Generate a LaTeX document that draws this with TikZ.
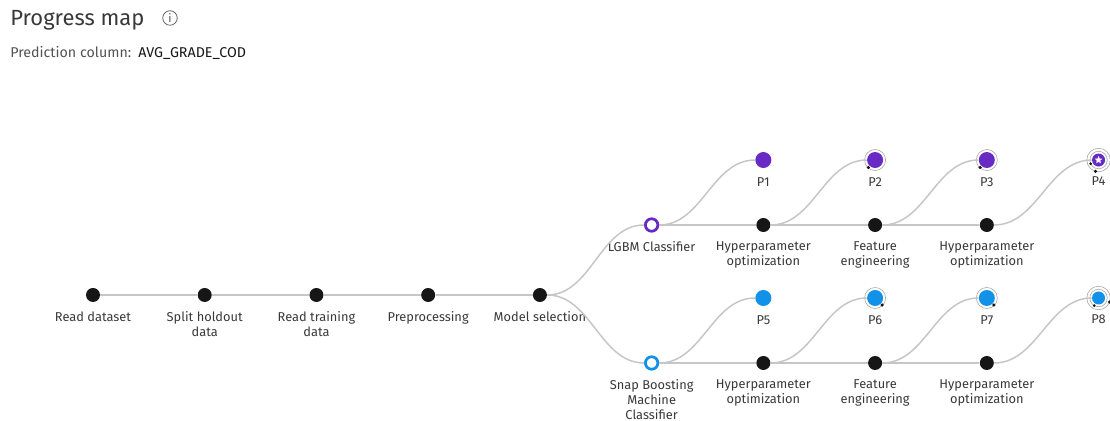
\documentclass[tikz,border=0pt]{standalone}
\usepackage{fontspec}
\setmainfont{Fira Sans}
\usetikzlibrary{positioning,shapes.geometric}
\definecolor{Ink}{HTML}{161616}
\definecolor{Wire}{HTML}{C6C6C6}
\definecolor{Halo}{HTML}{A8A8A8}
\definecolor{Grape}{HTML}{6929C4}
\definecolor{Sky}{HTML}{1192E8}
\definecolor{Caption}{HTML}{393939}
\definecolor{Muted}{HTML}{525252}

\begin{document}
\begin{tikzpicture}[
  x=0.02cm, y=-0.02cm,
  font=\fontsize{7.3}{8.5}\selectfont,
  node distance=2.235cm and 2.235cm, on grid,
  every label/.style={text=Caption, align=center, inner sep=0pt, label distance=0.18cm},
  stepdot/.style={circle, fill=Ink, minimum size=0.28cm, inner sep=0pt},
  estimator/.style={circle, fill=white, line width=0.055cm, minimum size=0.25cm, inner sep=0pt,
    label distance=0.17cm},
  pipeline/.style={circle, minimum size=0.32cm, inner sep=0pt, label distance=0.27cm},
  bestpipe/.style={pipeline, minimum size=0.26cm, label distance=0.3cm},
  halo/.style={draw=Halo, line width=0.35pt},
  tick/.style={fill=Ink},
  link/.style={draw=Wire, line width=0.85pt},
  curve/.style={link, out=0, in=180, looseness=0.95}
]
  \useasboundingbox (0,0) rectangle (1110,421);

  % header
  \node[anchor=west, inner sep=0pt, font=\fontsize{12.5}{14}\selectfont, text=Caption] (title) at (10,20) {Progress map};
  \node[circle, draw=Muted, line width=0.4pt, minimum size=0.29cm, inner sep=0pt,
        font=\fontsize{6.5}{6.5}\selectfont, text=Muted] (info) at (170,18) {i};
  \node[anchor=west, inner sep=0pt, font=\fontsize{8.1}{9.5}\selectfont, text=Muted] (target) at (10,53)
    {Prediction column:\enspace{\color{Ink}AVG\_GRADE\_COD}};

  % main pipeline
  \node[stepdot, label=below:Read dataset] (read) at (93,295) {};
  \node[stepdot, right=of read, label=below:{Split holdout\\data}] (split) {};
  \node[stepdot, right=of split, label=below:{Read training\\data}] (train) {};
  \node[stepdot, right=of train, label=below:Preprocessing] (prep) {};
  \node[stepdot, right=of prep, label=below:Model selection] (select) {};

  % estimators
  \node[estimator, draw=Grape, above right=1.4cm and 2.235cm of select, label=below:LGBM Classifier] (lgbm) {};
  \node[estimator, draw=Sky, below right=1.36cm and 2.235cm of select,
        label=below:{Snap Boosting\\Machine\\Classifier}] (snap) {};

  % LGBM branch
  \node[stepdot, right=of lgbm, label=below:{Hyperparameter\\optimization}] (hpoa) {};
  \node[stepdot, right=of hpoa, label=below:{Feature\\engineering}] (fea) {};
  \node[stepdot, right=of fea, label=below:{Hyperparameter\\optimization}] (hpob) {};
  \node[pipeline, fill=Grape, above right=1.3cm and 2.235cm of lgbm, label=below:P1] (p1) {};
  \node[pipeline, fill=Grape, above right=1.3cm and 2.235cm of hpoa, label=below:P2] (p2) {};
  \node[pipeline, fill=Grape, above right=1.3cm and 2.235cm of fea, label=below:P3] (p3) {};
  \node[bestpipe, fill=Grape, above right=1.3cm and 2.235cm of hpob, label=below:P4] (p4) {};
  \node[star, star points=5, star point ratio=2.2, fill=white, minimum size=0.16cm, inner sep=0pt] (p4star) at (p4) {};

  % Snap branch
  \node[stepdot, right=of snap, label=below:{Hyperparameter\\optimization}] (hpoc) {};
  \node[stepdot, right=of hpoc, label=below:{Feature\\engineering}] (feb) {};
  \node[stepdot, right=of feb, label=below:{Hyperparameter\\optimization}] (hpod) {};
  \node[pipeline, fill=Sky, above right=1.3cm and 2.235cm of snap, label=below:P5] (p5) {};
  \node[pipeline, fill=Sky, above right=1.3cm and 2.235cm of hpoc, label=below:P6] (p6) {};
  \node[pipeline, fill=Sky, above right=1.3cm and 2.235cm of feb, label=below:P7] (p7) {};
  \node[bestpipe, fill=Sky, above right=1.3cm and 2.235cm of hpod, label=below:P8] (p8) {};

  % rings round the refined pipelines
  \foreach \p/\a in {p2/228, p3/228, p6/315, p7/315} {
    \draw[halo] (\p.center) circle[radius=0.21cm];
    \fill[tick] (\p.center) ++(\a:0.2cm) circle[radius=0.035cm];
  }
  \foreach \p/\a/\b in {p4/255/205, p8/340/240} {
    \draw[halo] (\p.center) circle[radius=0.175cm];
    \draw[halo] (\p.center) circle[radius=0.235cm];
    \fill[tick] (\p.center) ++(\a:0.235cm) circle[radius=0.035cm];
    \fill[tick] (\p.center) ++(\b:0.175cm) circle[radius=0.03cm];
  }

  % connectors
  \draw[link] (read) -- (split) -- (train) -- (prep) -- (select);
  \draw[curve] (select) to (lgbm);
  \draw[curve] (select) to (snap);
  \draw[link] (lgbm) -- (hpoa) -- (fea) -- (hpob);
  \draw[link] (snap) -- (hpoc) -- (feb) -- (hpod);
  \draw[curve] (lgbm) to (p1);
  \draw[curve] (hpoa) to (p2);
  \draw[curve] (fea) to (p3);
  \draw[curve] (hpob) to (p4);
  \draw[curve] (snap) to (p5);
  \draw[curve] (hpoc) to (p6);
  \draw[curve] (feb) to (p7);
  \draw[curve] (hpod) to (p8);
\end{tikzpicture}
\end{document}
